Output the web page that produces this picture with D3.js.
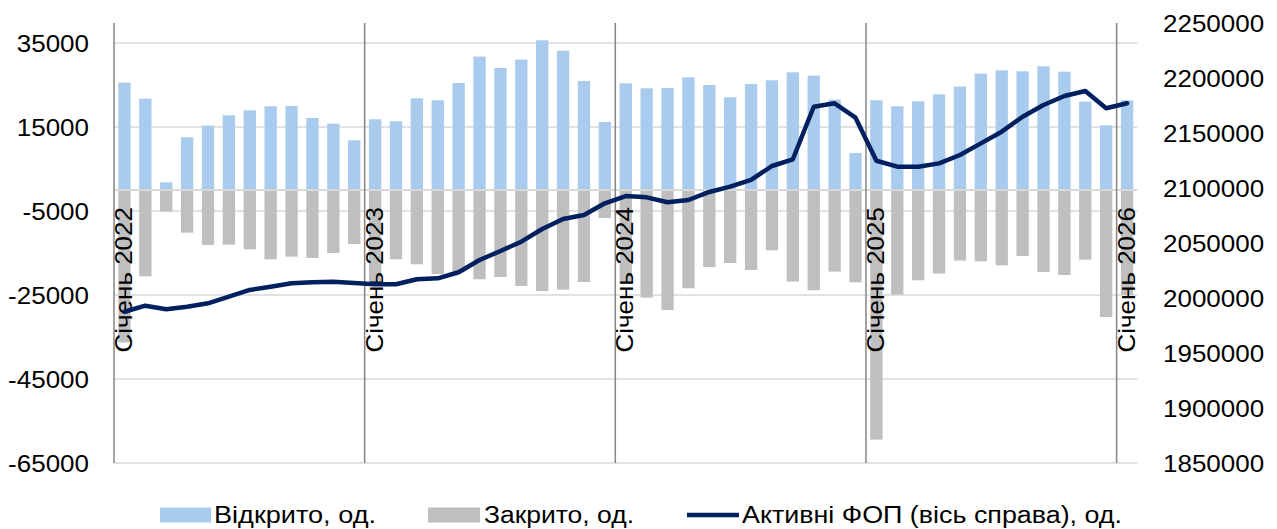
<!DOCTYPE html>
<html><head><meta charset="utf-8">
<script src="https://cdn.jsdelivr.net/npm/d3@7"></script>
<style>
html,body{margin:0;padding:0;background:#fff;}
svg{display:block;}
text{font-family:"Liberation Sans",Arial,sans-serif;fill:#000;}
</style>
</head><body>
<svg id="chart" width="1277" height="529"></svg>
<script>
// ---------- data ----------
const years = [2022, 2023, 2024, 2025, 2026];
const monthNames = ["Січень","Лютий","Березень","Квітень","Травень","Червень","Липень","Серпень","Вересень","Жовтень","Листопад","Грудень"];
const categories = [];
years.forEach(y => monthNames.forEach(m => categories.push(m + " " + y)));
categories.splice(49); // Січень 2022 .. Січень 2026

const opened = [
  25570, 21760, 1830, 12550, 15330, 17790, 18980, 19930, 20010, 17150, 15800, 11830,
  16830, 16360, 21830, 21360, 25480, 31760, 29050, 31040, 35640, 33180, 25950, 16190,
  25400, 24210, 24290, 26830, 25000, 22070, 25240, 26120, 28020, 27230, 21520, 8810,
  21360, 19930, 21120, 22790, 24620, 27710, 28500, 28260, 29450, 28180, 21040, 15400,
  21360
];
const closed = [
  -36300, -20550, -5150, -10150, -13090, -13010, -14120, -16500, -15870, -16190, -15000, -12860,
  -22000, -16500, -17690, -20000, -19500, -21260, -20710, -22860, -24050, -23720, -21900, -6670,
  -22000, -25620, -28570, -23400, -18330, -17380, -19050, -14360, -21810, -23880, -19440, -21980,
  -59430, -24910, -21500, -19900, -16810, -16980, -17930, -15710, -19520, -20240, -16580, -30240,
  -25000
];
const active = [
  1987500, 1993000, 1989700, 1992100, 1995200, 2001200, 2007300, 2010300, 2013400, 2014300, 2014800, 2013600,
  2012500, 2012500, 2017000, 2017900, 2023400, 2034500, 2042700, 2051200, 2062700, 2071800, 2075500, 2086100,
  2092700, 2091500, 2087000, 2089100, 2096400, 2101200, 2107300, 2120000, 2126100, 2173900, 2177000, 2163900,
  2124800, 2119400, 2119400, 2122400, 2130000, 2140600, 2151200, 2164800, 2175500, 2183600, 2188200, 2172500,
  2177000
];
const leftTicks = [-65000, -45000, -25000, -5000, 15000, 35000];
const rightTicks = [1850000, 1900000, 1950000, 2000000, 2050000, 2100000, 2150000, 2200000, 2250000];
const seriesNames = ["Відкрито, од.", "Закрито, од.", "Активні ФОП (вісь справа), од."];

// ---------- layout ----------
const svg = d3.select("#chart");
svg.append("rect").attr("width", 1277).attr("height", 529).attr("fill", "#fff");
const plotL = 114, plotR = 1137.5, plotT = 22, plotB = 463;
const FS = 23, STRETCH = 1.13;
const cBlue = "#a9cbed", cGray = "#bfbfbf", cLine = "#002060";
const fmt = d => String(d); // plain hyphen-minus as in the reference

const x = d3.scaleBand().domain(categories).range([plotL, plotR]).paddingInner(0.41).paddingOuter(0.205);
const yL = d3.scaleLinear().domain([-65000, 40000]).range([plotB, plotT]);
const yR = d3.scaleLinear().domain([1850000, 2250000]).range([plotB, plotT + 1]);

// gridlines
svg.append("g").selectAll("line").data(leftTicks).join("line")
  .attr("x1", plotL).attr("x2", plotR)
  .attr("y1", d => yL(d)).attr("y2", d => yL(d))
  .attr("stroke", "#d9d9d9").attr("stroke-width", 1.5);

// bars
svg.append("g").selectAll("rect").data(opened).join("rect")
  .attr("x", (d, i) => x(categories[i])).attr("width", x.bandwidth())
  .attr("y", d => yL(d)).attr("height", d => yL(0) - yL(d))
  .attr("fill", cBlue);
svg.append("g").selectAll("rect").data(closed).join("rect")
  .attr("x", (d, i) => x(categories[i])).attr("width", x.bandwidth())
  .attr("y", yL(0)).attr("height", d => yL(d) - yL(0))
  .attr("fill", cGray);

// zero (category) axis line
svg.append("line").attr("x1", plotL).attr("x2", plotR)
  .attr("y1", yL(0)).attr("y2", yL(0))
  .attr("stroke", "#d9d9d9").attr("stroke-width", 2);

// year separators + left axis line
const sepIdx = categories.map((c, i) => i).filter(i => i % 12 === 0);
svg.append("g").selectAll("line").data(sepIdx).join("line")
  .attr("x1", i => x(categories[i]) - x.step() * x.paddingOuter())
  .attr("x2", i => x(categories[i]) - x.step() * x.paddingOuter())
  .attr("y1", plotT + 1).attr("y2", plotB)
  .attr("stroke", "#868686").attr("stroke-width", 1.5);

// category labels
const gx = svg.append("g").attr("transform", `translate(0,${yL(0)})`)
  .call(d3.axisBottom(x).tickValues(sepIdx.map(i => categories[i])).tickSize(0));
gx.select(".domain").remove();
gx.selectAll("text")
  .attr("transform", "rotate(-90)")
  .attr("text-anchor", "end")
  .attr("x", -17).attr("y", 7.5).attr("dy", 0)
  .attr("font-size", FS).attr("font-family", null);

// left axis
const gl = svg.append("g").attr("transform", `translate(89,0)`)
  .call(d3.axisLeft(yL).tickValues(leftTicks).tickSize(0).tickPadding(0).tickFormat(fmt));
gl.select(".domain").remove();
gl.selectAll("text").attr("font-size", FS).attr("font-family", null).attr("dy", "0.35em");

// right axis
const gr = svg.append("g").attr("transform", `translate(1163,0)`)
  .call(d3.axisRight(yR).tickValues(rightTicks).tickSize(0).tickPadding(0).tickFormat(fmt));
gr.select(".domain").remove();
gr.selectAll("text").attr("font-size", FS).attr("font-family", null).attr("dy", "0.35em");

// line series
const line = d3.line()
  .x((d, i) => x(categories[i]) + x.bandwidth() / 2)
  .y(d => yR(d));
svg.append("path").datum(active)
  .attr("d", line).attr("fill", "none")
  .attr("stroke", cLine).attr("stroke-width", 4.5)
  .attr("stroke-linejoin", "round").attr("stroke-linecap", "round");

// legend
const lg = svg.append("g");
const ly = 515;
lg.append("rect").attr("x", 160).attr("y", ly - 7.5).attr("width", 51).attr("height", 15).attr("fill", cBlue);
lg.append("text").attr("x", 214).attr("y", ly).attr("dy", "0.35em").attr("font-size", FS)
  .attr("textLength", 162).attr("lengthAdjust", "spacingAndGlyphs").text(seriesNames[0]);
lg.append("rect").attr("x", 428).attr("y", ly - 7.5).attr("width", 52).attr("height", 15).attr("fill", cGray);
lg.append("text").attr("x", 484).attr("y", ly).attr("dy", "0.35em").attr("font-size", FS)
  .attr("textLength", 150).attr("lengthAdjust", "spacingAndGlyphs").text(seriesNames[1]);
lg.append("line").attr("x1", 687).attr("x2", 739).attr("y1", ly).attr("y2", ly)
  .attr("stroke", cLine).attr("stroke-width", 4.5);
lg.append("text").attr("x", 742).attr("y", ly).attr("dy", "0.35em").attr("font-size", FS)
  .attr("textLength", 380).attr("lengthAdjust", "spacingAndGlyphs").text(seriesNames[2]);

// horizontal stretch of remaining text to match reference glyph widths
svg.selectAll("text").each(function () {
  if (!this.hasAttribute("textLength")) {
    const w = this.getComputedTextLength();
    this.setAttribute("textLength", w * STRETCH);
    this.setAttribute("lengthAdjust", "spacingAndGlyphs");
  }
});
</script>
</body></html>
